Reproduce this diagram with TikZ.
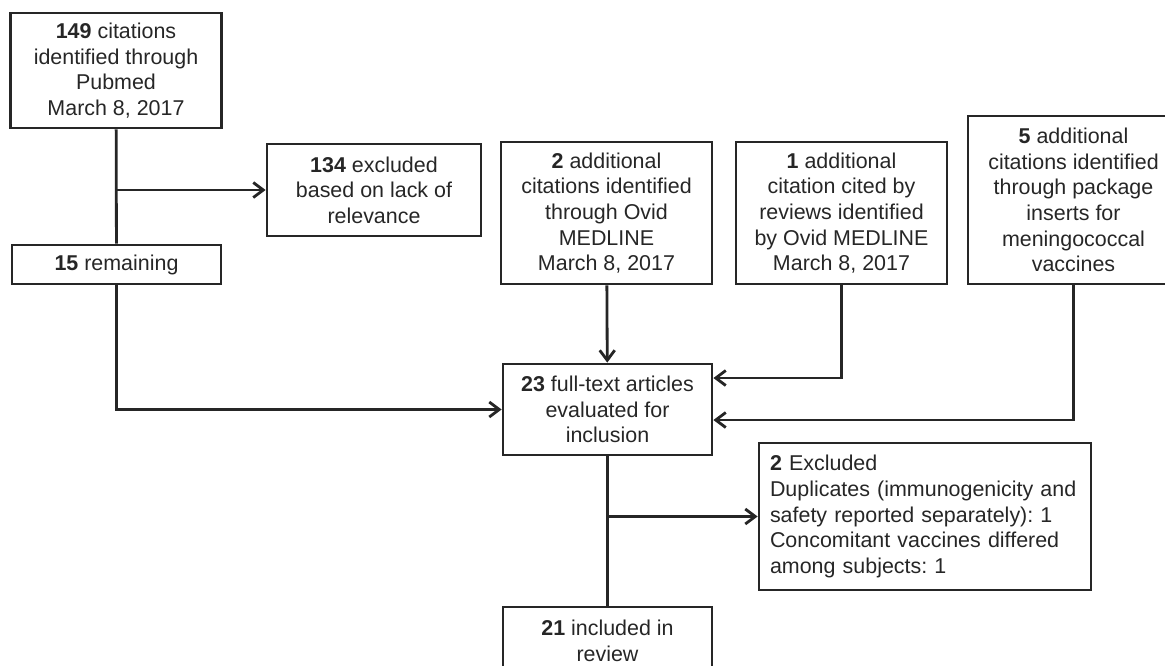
\documentclass[tikz,border=0pt]{standalone}
\usepackage{fontspec}
\setmainfont{Liberation Sans}
\usetikzlibrary{arrows.meta,
	calc,
	positioning}
\frenchspacing
\tikzset{box/.style={draw, line width=1.6pt, align=center, inner sep=2pt,
		font=\fontsize{12.2}{14.6}\selectfont, minimum width=4.22cm},
	xbox/.style={box, align=left, text width=6.2cm, inner xsep=0.22cm, minimum width=0cm}}

\begin{document}
\begin{tikzpicture}[>={Straight Barb[length=2mm,width=3mm]}, line width=1.6pt, color=black!85]
	\clip (0,0) rectangle (23.3,-13.3);
	\node[box, minimum height=2.30cm] (cit149) at (2.32,-1.41) {\textbf{149} citations\\identified through\\Pubmed\\March 8, 2017};
	\node[box, minimum width=4.28cm, minimum height=1.84cm] (excl134) at (7.48,-3.80) {\textbf{134} excluded\\based on lack of\\relevance};
	\node[box, minimum width=4.18cm, minimum height=0.78cm] (rem15) at (2.33,-5.29) {\textbf{15} remaining};
	\node[box, minimum height=2.84cm] (ovid2) at (12.13,-4.26) {\textbf{2} additional\\citations identified\\through Ovid\\MEDLINE\\March 8, 2017};
	\node[box, minimum height=2.84cm] (rev1) at (16.83,-4.26) {\textbf{1} additional\\citation cited by\\reviews identified\\by Ovid MEDLINE\\March 8, 2017};
	\node[box, minimum height=3.36cm] (pkg5) at (21.47,-4.00) {\textbf{5} additional\\citations identified\\through package\\inserts for\\meningococcal\\vaccines};
	\node[box, minimum width=4.18cm, minimum height=1.82cm] (full23) at (12.15,-8.19) {\textbf{23} full-text articles\\evaluated for\\inclusion};
	\node[xbox, minimum height=2.94cm] (excl2) at (18.50,-10.33) {\textbf{2} Excluded\\Duplicates (immunogenicity and\\safety reported separately): 1\\Concomitant vaccines differed\\among subjects: 1};
	\node[box, minimum width=4.18cm, minimum height=1.36cm] (incl21) at (12.15,-12.82) {\textbf{21} included in\\review};
	\draw (cit149) -- (rem15);
	\draw[->] (cit149.south |- excl134.west) -- (excl134.west);
	\draw[->] (rem15.south) |- (full23.west);
	\draw[->] (ovid2) -- (full23);
	\draw[->] (rev1.south) |- ([yshift=0.63cm]full23.east);
	\draw[->] (pkg5.south) |- ([yshift=-0.21cm]full23.east);
	\draw (full23) -- (incl21);
	\draw[->] (full23.south |- excl2.west) -- (excl2.west);
\end{tikzpicture}
\end{document}
